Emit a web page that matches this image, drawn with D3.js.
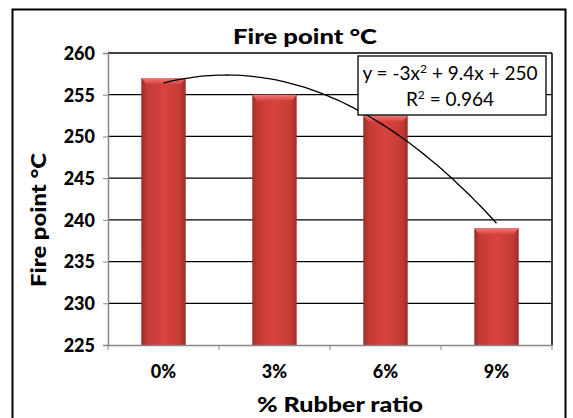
<!DOCTYPE html>
<html><head><meta charset="utf-8">
<script src="https://cdn.jsdelivr.net/npm/d3@7"></script>
<style>body{margin:0;background:#fff}svg{display:block}text{font-family:Lato,"Open Sans",sans-serif}</style>
</head><body><svg id="c" width="573" height="418"></svg>
<script>
const categories = ["0%","3%","6%","9%"];
const values = [257, 255, 252.5, 239];
const yTicks = [225,230,235,240,245,250,255,260];
const trend = {a:-3, b:9.4, c:250};
const titleText = "Fire point °C";
const yLabel = "Fire point °C";
const xLabel = "% Rubber ratio";

const svg = d3.select("#c");
const m = {l:108, r:552, t:53, b:345};
svg.append("rect").attr("x",12.5).attr("y",9.5).attr("width",553).attr("height",420)
  .attr("fill","#fff").attr("stroke","#000").attr("stroke-width",2);

const x = d3.scaleBand().domain(categories).range([m.l,m.r]).paddingInner(0.6).paddingOuter(0.3);
const xb = d3.scaleBand().domain(categories).range([m.l,m.r]);
const y = d3.scaleLinear().domain([225,260]).range([m.b,m.t]);

const defs = svg.append("defs");
const g1 = defs.append("linearGradient").attr("id","bg").attr("x1",0).attr("x2",1).attr("y1",0).attr("y2",0);
[["0%","#9e2a25"],["12%","#c23a35"],["50%","#d9433f"],["88%","#c23a35"],["100%","#9e2a25"]].forEach(s=>g1.append("stop").attr("offset",s[0]).attr("stop-color",s[1]));
const g2 = defs.append("linearGradient").attr("id","tg").attr("x1",0).attr("x2",0).attr("y1",0).attr("y2",1);
[["0%","#f07a76"],["100%","#d9433f"]].forEach(s=>g2.append("stop").attr("offset",s[0]).attr("stop-color",s[1]));

// gridlines
svg.append("g").selectAll("line").data(yTicks.filter(t=>t>225)).join("line")
  .attr("x1",m.l).attr("x2",m.r).attr("y1",d=>y(d)).attr("y2",d=>y(d))
  .attr("stroke","#000").attr("stroke-width",1.3);
// right border of plot
svg.append("line").attr("x1",m.r).attr("x2",m.r).attr("y1",m.t).attr("y2",m.b).attr("stroke","#000").attr("stroke-width",1.5);

// bars
const bars = svg.append("g");
categories.forEach((c,i)=>{
  const bx = x(c), bw = x.bandwidth(), by = y(values[i]), bh = m.b - by;
  bars.append("rect").attr("x",bx).attr("y",by).attr("width",bw).attr("height",bh).attr("fill","url(#bg)");
  bars.append("path").attr("d",`M${bx},${by}L${bx+bw},${by}L${bx+bw-5},${by+6}L${bx+5},${by+6}Z`).attr("fill","url(#tg)");
});

// axes
const yAxis = d3.axisLeft(y).tickValues(yTicks).tickSize(5).tickPadding(8).tickFormat(d3.format("d"));
const ya = svg.append("g").attr("transform",`translate(${m.l},0)`).call(yAxis);
ya.select(".domain").attr("stroke","#888").attr("stroke-width",1.5);
ya.selectAll(".tick line").attr("stroke","#888");
ya.selectAll("text").attr("font-size",18).attr("font-weight",900).attr("fill","#000").attr("dy","0.35em");

const xAxis = d3.axisBottom(xb).tickSize(0).tickPadding(20);
const xa = svg.append("g").attr("transform",`translate(0,${m.b})`).call(xAxis);
xa.select(".domain").attr("stroke","#888").attr("stroke-width",1.5);
xa.selectAll("text").attr("font-size",18).attr("font-weight",900).attr("fill","#000");
// category boundary ticks
xa.selectAll(".bt").data(d3.range(categories.length+1)).join("line")
  .attr("x1",i=>m.l+i*xb.step()).attr("x2",i=>m.l+i*xb.step()).attr("y1",0).attr("y2",5).attr("stroke","#888");

// trendline
const tx = d3.scaleLinear().domain([1,4]).range([xb(categories[0])+xb.bandwidth()/2, xb(categories[3])+xb.bandwidth()/2]);
const pts = d3.range(1,4.001,0.05).map(v=>[tx(v), y(trend.a*v*v+trend.b*v+trend.c)]);
svg.append("path").attr("d",d3.line().curve(d3.curveBasis)(pts)).attr("fill","none").attr("stroke","#000").attr("stroke-width",1.3);

// equation box
svg.append("rect").attr("x",358).attr("y",56).attr("width",188).attr("height",59).attr("fill","#fff").attr("stroke","#000").attr("stroke-width",1.3);
const eq = svg.append("text").attr("x",450).attr("y",80).attr("text-anchor","middle").attr("font-size",19);
eq.append("tspan").text("y = -3x");
eq.append("tspan").attr("dy",-7).attr("font-size",12).text("2");
eq.append("tspan").attr("dy",7).text(" + 9.4x + 250");
const r2 = svg.append("text").attr("x",450).attr("y",106).attr("text-anchor","middle").attr("font-size",19);
r2.append("tspan").text("R");
r2.append("tspan").attr("dy",-7).attr("font-size",12).text("2");
r2.append("tspan").attr("dy",7).text(" = 0.964");

// titles
svg.append("text").attr("x",233).attr("y",44).attr("font-size",21).attr("font-weight",900)
  .attr("textLength",144).attr("lengthAdjust","spacingAndGlyphs").text(titleText);
svg.append("text").attr("transform","translate(46,287) rotate(-90)").attr("font-size",21).attr("font-weight",900)
  .attr("textLength",134).attr("lengthAdjust","spacingAndGlyphs").text(yLabel);
svg.append("text").attr("x",257).attr("y",412).attr("font-size",21).attr("font-weight",900)
  .attr("textLength",166).attr("lengthAdjust","spacingAndGlyphs").text(xLabel);
</script></body></html>
